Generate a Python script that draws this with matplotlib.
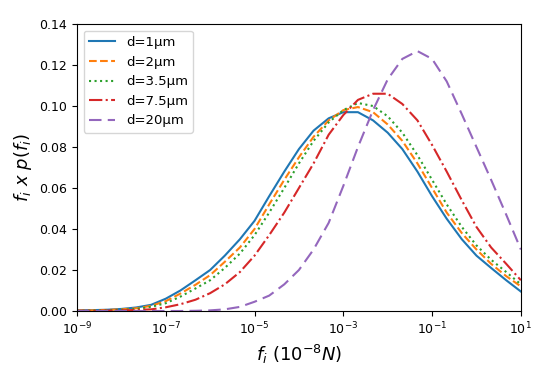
import numpy as np
import matplotlib
matplotlib.use("Agg")
import matplotlib.pyplot as plt
from matplotlib.ticker import LogLocator, NullLocator, LogFormatterMathtext

# x sample points: exponents (base 10), one-third decade steps
log_f = [-9, -8.67, -8.33, -8, -7.67, -7.33, -7, -6.67, -6.33, -6, -5.67,
         -5.33, -5, -4.67, -4.33, -4, -3.67, -3.33, -3, -2.67, -2.33, -2,
         -1.67, -1.33, -1, -0.67, -0.33, 0, 0.33, 0.67, 1]

d1 = [0.0003, 0.0004, 0.0006, 0.001, 0.0017, 0.003, 0.006, 0.010, 0.015, 0.020,
      0.027, 0.035, 0.044, 0.056, 0.068, 0.079, 0.088, 0.094, 0.097, 0.097,
      0.093, 0.087, 0.079, 0.068, 0.056, 0.045, 0.035, 0.027, 0.021, 0.015, 0.0095]
d2 = [0.0002, 0.0003, 0.0005, 0.0008, 0.0013, 0.0025, 0.0048, 0.0085, 0.0128, 0.0175,
      0.024, 0.031, 0.040, 0.052, 0.064, 0.075, 0.085, 0.093, 0.098, 0.0995,
      0.097, 0.091, 0.083, 0.072, 0.060, 0.048, 0.038, 0.030, 0.023, 0.017, 0.012]
d35 = [0.0001, 0.0002, 0.0004, 0.0006, 0.001, 0.002, 0.0038, 0.007, 0.011, 0.015,
       0.021, 0.028, 0.037, 0.048, 0.060, 0.072, 0.083, 0.092, 0.098, 0.1015,
       0.100, 0.095, 0.087, 0.076, 0.064, 0.052, 0.041, 0.032, 0.025, 0.019, 0.013]
d75 = [0.0001, 0.0001, 0.0002, 0.0003, 0.0005, 0.0008, 0.0018, 0.0033, 0.0055, 0.0087,
       0.013, 0.019, 0.027, 0.037, 0.048, 0.060, 0.072, 0.086, 0.0956, 0.103,
       0.106, 0.106, 0.101, 0.093, 0.081, 0.068, 0.054, 0.041, 0.031, 0.023, 0.015]
d20 = [0.0, 0.0, 0.0, 0.0, 0.0, 0.0, 0.0, 0.0, 0.0001, 0.0003,
       0.0008, 0.002, 0.0045, 0.0075, 0.013, 0.020, 0.030, 0.043, 0.061, 0.080,
       0.098, 0.113, 0.123, 0.1268, 0.123, 0.112, 0.096, 0.080, 0.064, 0.047, 0.030]

labels = ["d=1μm", "d=2μm", "d=3.5μm", "d=7.5μm", "d=20μm"]

x = 10.0 ** np.array(log_f)

fig = plt.figure(figsize=(5.5, 3.7), dpi=100)
ax = fig.add_axes([0.14, 0.1595, 0.807, 0.7755])

ax.plot(x, d1, color="#1f77b4", ls="-", lw=1.5, label=labels[0])
ax.plot(x, d2, color="#ff7f0e", ls="--", lw=1.5, label=labels[1])
ax.plot(x, d35, color="#2ca02c", ls=":", lw=1.5, label=labels[2])
ax.plot(x, d75, color="#d62728", ls="-.", lw=1.5, label=labels[3])
ax.plot(x, d20, color="#9467bd", ls=(0, (6, 3)), lw=1.5, label=labels[4])

ax.set_xscale("log")
ax.set_xlim(1e-9, 1e1)
ax.set_ylim(0, 0.14)
ax.xaxis.set_major_locator(LogLocator(base=10, subs=(1.0,), numticks=6))
ax.set_xticks([1e-9, 1e-7, 1e-5, 1e-3, 1e-1, 1e1])
ax.xaxis.set_major_formatter(LogFormatterMathtext())
ax.xaxis.set_minor_locator(NullLocator())
ax.set_yticks([0, 0.02, 0.04, 0.06, 0.08, 0.10, 0.12, 0.14])
ax.set_yticklabels(["0.00", "0.02", "0.04", "0.06", "0.08", "0.10", "0.12", "0.14"])
ax.tick_params(labelsize=9)

ax.set_xlabel(r"$f_i\ (10^{-8}N)$", fontsize=13)
ax.set_ylabel(r"$f_i\ x\ p(f_i)$", fontsize=13)

ax.legend(loc="upper left", fontsize=9.5)

fig.savefig("out.png", dpi=100)
